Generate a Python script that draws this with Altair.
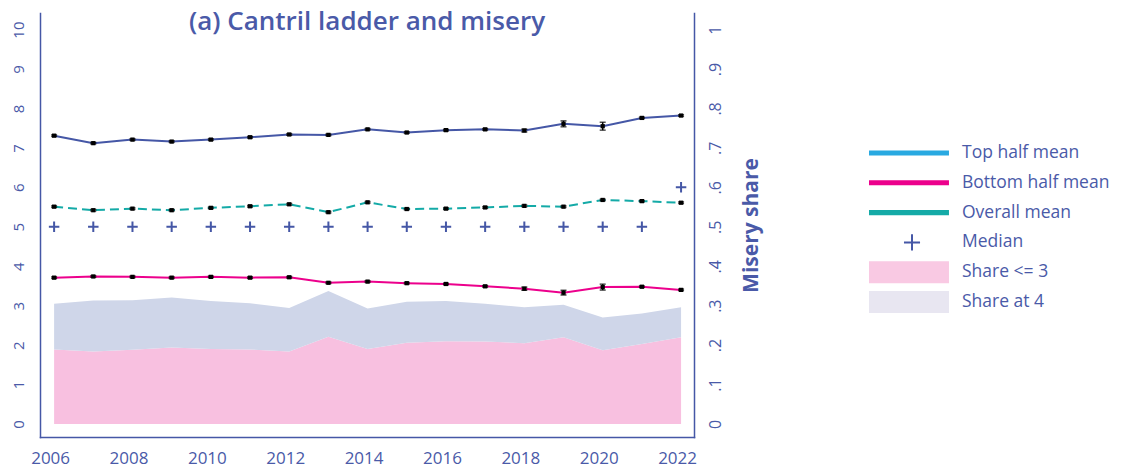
import altair as alt
import pandas as pd

# ---------------- data ----------------
years = [2006, 2007, 2008, 2009, 2010, 2011, 2012, 2013, 2014, 2015, 2016, 2017, 2018, 2019, 2020, 2021, 2022]
top_half_mean = [7.31, 7.12, 7.21, 7.16, 7.21, 7.27, 7.34, 7.33, 7.47, 7.39, 7.45, 7.47, 7.44, 7.61, 7.55, 7.76, 7.82]
top_half_ci = [0.02, 0.02, 0.02, 0.02, 0.02, 0.02, 0.02, 0.02, 0.02, 0.02, 0.02, 0.02, 0.035, 0.075, 0.10, 0.02, 0.02]
bottom_half_mean = [3.71, 3.74, 3.73, 3.71, 3.73, 3.71, 3.72, 3.58, 3.61, 3.57, 3.55, 3.49, 3.43, 3.33, 3.47, 3.48, 3.40]
bottom_half_ci = [0.02, 0.02, 0.02, 0.02, 0.02, 0.02, 0.02, 0.02, 0.02, 0.02, 0.02, 0.02, 0.04, 0.06, 0.075, 0.02, 0.02]
overall_mean = [5.51, 5.42, 5.46, 5.42, 5.48, 5.52, 5.57, 5.37, 5.62, 5.45, 5.46, 5.49, 5.53, 5.51, 5.68, 5.65, 5.61]
overall_ci = [0.02, 0.02, 0.02, 0.02, 0.02, 0.02, 0.02, 0.02, 0.02, 0.02, 0.02, 0.02, 0.02, 0.02, 0.02, 0.02, 0.02]
median = [5, 5, 5, 5, 5, 5, 5, 5, 5, 5, 5, 5, 5, 5, 5, 5, 6]
share_le3 = [0.189, 0.184, 0.188, 0.194, 0.190, 0.189, 0.184, 0.221, 0.190, 0.206, 0.210, 0.209, 0.205, 0.220, 0.187, 0.203, 0.220]
share_at4 = [0.116, 0.129, 0.126, 0.127, 0.122, 0.117, 0.110, 0.116, 0.103, 0.104, 0.102, 0.096, 0.091, 0.082, 0.083, 0.077, 0.076]

legend_names = ["Top half mean", "Bottom half mean", "Overall mean", "Median", "Share <= 3", "Share at 4"]
x_ticks = [2006, 2008, 2010, 2012, 2014, 2016, 2018, 2020, 2022]
left_ticks = [0, 1, 2, 3, 4, 5, 6, 7, 8, 9, 10]
right_ticks = [0, 0.1, 0.2, 0.3, 0.4, 0.5, 0.6, 0.7, 0.8, 0.9, 1.0]

# ---------------- styles ----------------
TEXT = "#4a5aa8"
NAVY = "#4557a6"
MAGENTA = "#ec008c"
TEAL = "#14aaa7"
LIGHTBLUE = "#29a9e1"
PINK_AREA = "#f8c0e0"
LAV_AREA = "#cfd6e9"
PINK_LEG = "#f9c9e3"
LAV_LEG = "#e8e6f1"
FONT = "Open Sans"

rows = []
for name, vals, ci in [("top", top_half_mean, top_half_ci),
                       ("bottom", bottom_half_mean, bottom_half_ci),
                       ("overall", overall_mean, overall_ci)]:
    for y, v, c in zip(years, vals, ci):
        rows.append({"year": y, "series": name, "value": v, "lo": v - c, "hi": v + c})
means_df = pd.DataFrame(rows)
median_df = pd.DataFrame({"year": years, "median": median})
share_df = pd.DataFrame({"year": years, "le3": share_le3, "at4": share_at4})
legend_df = pd.DataFrame({"name": legend_names})

xscale = alt.Scale(domain=[2005.64, 2022.33], nice=False, zero=False)
xaxis = alt.Axis(values=x_ticks, format="d", title=None, grid=False, ticks=False,
                 labelFontSize=17, labelColor=TEXT, labelFont=FONT, labelPadding=13,
                 labelOffset=-4, domainColor=NAVY, domainWidth=1.5)
X = alt.X("year:Q", scale=xscale, axis=xaxis)

lscale = alt.Scale(domain=[-0.33, 10.42], nice=False, zero=False)
laxis = alt.Axis(orient="left", values=left_ticks, title=None, grid=False, ticks=False,
                 labelAngle=270, labelFontSize=15, labelColor=TEXT, labelFont=FONT,
                 labelPadding=14, domainColor=NAVY, domainWidth=1.5)

def YL(field):
    return alt.Y(field, type="quantitative", scale=lscale, axis=laxis)

rscale = alt.Scale(domain=[-0.033, 1.042], nice=False, zero=False)
raxis = alt.Axis(orient="right", values=right_ticks, title="Misery share", grid=False, ticks=False,
                 labelAngle=270, labelFontSize=16, labelColor=TEXT, labelFont=FONT,
                 labelPadding=13, domainColor=NAVY, domainWidth=1.5,
                 labelExpr="datum.value == 0 ? '0' : (datum.value >= 1 ? '1' : replace(format(datum.value, '.1f'), '0.', '.'))",
                 titleAngle=270, titleFontSize=21, titleFontWeight="bold", titleColor=TEXT,
                 titleFont=FONT, titlePadding=38)

# ---------------- right-scale group: areas ----------------
base_share = alt.Chart(share_df).transform_calculate(cum="datum.le3 + datum.at4")
pink_area = base_share.mark_area(color=PINK_AREA, opacity=1).encode(
    x=X, y=alt.Y("le3:Q", scale=rscale, axis=raxis), y2=alt.datum(0))
lav_area = base_share.mark_area(color=LAV_AREA, opacity=1).encode(
    x=X, y=alt.Y("cum:Q", scale=rscale, axis=raxis), y2="le3:Q")
right_group = alt.layer(pink_area, lav_area)

# ---------------- left-scale group: means ----------------
mb = alt.Chart(means_df)
top_line = mb.transform_filter(alt.datum.series == "top").mark_line(color=NAVY, strokeWidth=2).encode(x=X, y=YL("value"))
bot_line = mb.transform_filter(alt.datum.series == "bottom").mark_line(color=MAGENTA, strokeWidth=2).encode(x=X, y=YL("value"))
ov_line = mb.transform_filter(alt.datum.series == "overall").mark_line(
    color=TEAL, strokeWidth=2, strokeDash=[9, 5]).encode(x=X, y=YL("value"))
errbars = mb.mark_errorbar(ticks={"size": 6, "color": "black", "thickness": 1.5},
                           rule={"color": "black", "strokeWidth": 1.5}).encode(
    x=X, y=YL("lo"), y2="hi:Q")
squares = mb.mark_square(color="black", size=18, opacity=1).encode(x=X, y=YL("value"))

plus_path = "M-1,0H1M0,-1V1"
medians = alt.Chart(median_df).mark_point(shape=plus_path, size=110, filled=False, strokeWidth=2,
                                           color=NAVY, opacity=1).encode(x=X, y=YL("median"))

# legend (custom symbol paths, unit = 11px)
line_sym = "M-1,-0.23H6.27V0.23H-1Z M0,-1 M0,1"
rect_sym = "M-1,-1H6.27V1H-1Z"
plus_sym = "M2.18,-0.09H3.64V0.09H2.18Z M2.82,-0.73H3.0V0.73H2.82Z M0,-1 M0,1"
legend_def = alt.Legend(title=None, orient="none", legendX=829, legendY=129,
                        labelFontSize=17.5, labelColor=TEXT, labelFont=FONT,
                        labelOffset=71, rowPadding=7.8, symbolSize=484, symbolStrokeWidth=0,
                        symbolOpacity=1, labelLimit=300)
legend_layer = alt.Chart(legend_df).transform_filter("false").mark_point(filled=True, opacity=1, size=484).encode(
    fill=alt.Fill("name:N", sort=legend_names,
                  scale=alt.Scale(domain=legend_names,
                                  range=[LIGHTBLUE, MAGENTA, TEAL, NAVY, PINK_LEG, LAV_LEG]),
                  legend=legend_def),
    shape=alt.Shape("name:N", sort=legend_names,
                    scale=alt.Scale(domain=legend_names,
                                    range=[line_sym, line_sym, line_sym, plus_sym, rect_sym, rect_sym]),
                    legend=legend_def),
)

left_group = alt.layer(top_line, bot_line, ov_line, errbars, squares, medians, legend_layer)

chart = alt.layer(right_group, left_group).resolve_scale(y="independent").properties(
    width=654, height=424,
    padding={"left": 2, "top": 1, "right": 5, "bottom": 5},
    title=alt.Title("(a) Cantril ladder and misery", fontSize=26, color=TEXT, font=FONT,
                    fontWeight=600, anchor="middle", offset=-22),
).configure_view(stroke=None).configure_axis(domainCap="square")

chart.save("out.html", embed_options={"renderer": "svg", "actions": False})
